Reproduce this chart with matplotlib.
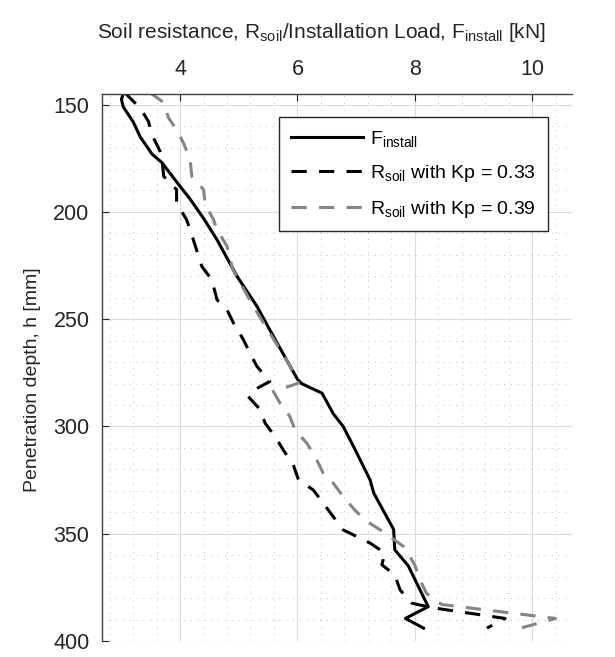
import numpy as np
import matplotlib.pyplot as plt
from matplotlib.ticker import MultipleLocator

plt.rcParams['font.family'] = ['Liberation Sans', 'DejaVu Sans']
plt.rcParams['mathtext.default'] = 'regular'

# Installation load (solid black)
f_depth = [145, 147.5, 151, 158, 165, 173, 177, 186, 194, 203, 213, 230, 244, 258,
           278, 280, 284.5, 294, 300, 309, 320, 325, 331, 348, 357.5, 365, 384, 389.5, 394]
f_load = [3.03, 3.0, 3.03, 3.2, 3.32, 3.52, 3.69, 3.94, 4.17, 4.4, 4.63, 4.97, 5.31, 5.59,
          6.0, 6.07, 6.42, 6.61, 6.78, 6.95, 7.15, 7.24, 7.3, 7.64, 7.66, 7.89, 8.23, 7.84, 8.15]

# Soil resistance, Kp = 0.33 (black dashed)
r33_depth = [144.5, 151.6, 157.8, 164, 171.8, 175, 183.4, 189.6, 195.8, 203.6, 208.3, 217.6,
             225.4, 231.6, 241, 245.6, 251.8, 259.6, 265.8, 272, 279, 282, 286, 292, 298.5,
             304.7, 311, 318, 325, 329.6, 335.8, 342, 348.2, 351.3, 354.4, 359, 364.5, 369.2,
             376.2, 382.4, 384.5, 389.5, 394]
r33_load = [3.06, 3.32, 3.46, 3.52, 3.66, 3.69, 3.72, 3.94, 3.94, 4.11, 4.17, 4.28,
            4.37, 4.54, 4.63, 4.8, 4.91, 5.08, 5.19, 5.31, 5.53, 5.33, 5.16, 5.36, 5.45,
            5.62, 5.76, 5.93, 6.02, 6.27, 6.44, 6.61, 6.78, 7.01, 7.24, 7.49, 7.44, 7.66,
            7.75, 7.95, 8.3, 9.54, 9.23]

# Soil resistance, Kp = 0.39 (grey dashed)
r39_depth = [144.5, 149, 156, 161.7, 168, 175.6, 183.4, 189.6, 196.6, 203.6, 208.3, 216,
             227, 244, 250.3, 256.5, 264, 270.5, 279.8, 283.7, 289, 295.3, 301.6, 307.8, 314,
             321.8, 326.4, 332.7, 339, 343.6, 348.2, 352, 356, 360.7, 364.6, 371.5, 377.8,
             383, 389.5, 394.8]
r39_load = [3.49, 3.72, 3.8, 3.94, 4.06, 4.17, 4.2, 4.4, 4.43, 4.57, 4.63, 4.8,
            4.9, 5.25, 5.39, 5.53, 5.7, 5.85, 6.02, 5.59, 5.7, 5.87, 5.96, 6.16, 6.3,
            6.44, 6.61, 6.78, 6.98, 7.15, 7.41, 7.61, 7.81, 7.92, 8.0, 8.09, 8.2,
            8.46, 10.4, 9.7]

fig = plt.figure(figsize=(6.15, 6.57), dpi=100)
ax = fig.add_axes([0.166, 0.0244, 0.764, 0.8326])

dash = (5, 4)
ax.plot(f_load, f_depth, color='black', lw=2.2, label=r'F$_{install}$')
ax.plot(r33_load, r33_depth, color='black', lw=2.2, dashes=dash,
        label=r'R$_{soil}$ with Kp = 0.33')
ax.plot(r39_load, r39_depth, color='#858585', lw=2.2, dashes=dash,
        label=r'R$_{soil}$ with Kp = 0.39')

ax.set_xlim(2.67, 10.68)
ax.set_ylim(400, 145)
ax.xaxis.set_major_locator(MultipleLocator(2))
ax.xaxis.set_minor_locator(MultipleLocator(0.4))
ax.yaxis.set_major_locator(MultipleLocator(50))
ax.yaxis.set_minor_locator(MultipleLocator(10))
ax.xaxis.tick_top()
ax.xaxis.set_label_position('top')
ax.tick_params(which='major', direction='in', length=5, labelsize=15.5,
               colors='#262626')
ax.tick_params(which='minor', length=0)
ax.tick_params(axis='x', pad=10)
ax.tick_params(axis='y', pad=9)

ax.grid(which='major', color='#dcdcdc', lw=0.8)
ax.grid(which='minor', color='#bdbdbd', lw=0.7, linestyle=(0, (1, 6)))
ax.set_axisbelow(True)

for s in ['right', 'bottom']:
    ax.spines[s].set_visible(False)
for s in ['left', 'top']:
    ax.spines[s].set_color('#404040')
    ax.spines[s].set_linewidth(1.0)

ax.set_xlabel(r'Soil resistance, R$_{soil}$/Installation Load, F$_{install}$ [kN]',
              fontsize=15, color='#262626', labelpad=15)
ax.set_ylabel('Penetration depth, h [mm]', fontsize=14, color='#262626', labelpad=9)
# the original labels sit a little off-centre
ax.xaxis.label.set_x(0.466)
ax.yaxis.label.set_y(0.477)

leg = ax.legend(loc='upper right', bbox_to_anchor=(0.949, 0.958), fontsize=14,
                handlelength=3.7, fancybox=False, framealpha=1, edgecolor='#262626',
                borderpad=0.6, labelspacing=0.75, handletextpad=0.4,
                borderaxespad=0)
leg.get_frame().set_linewidth(1.0)

plt.savefig('out.png', dpi=100)
